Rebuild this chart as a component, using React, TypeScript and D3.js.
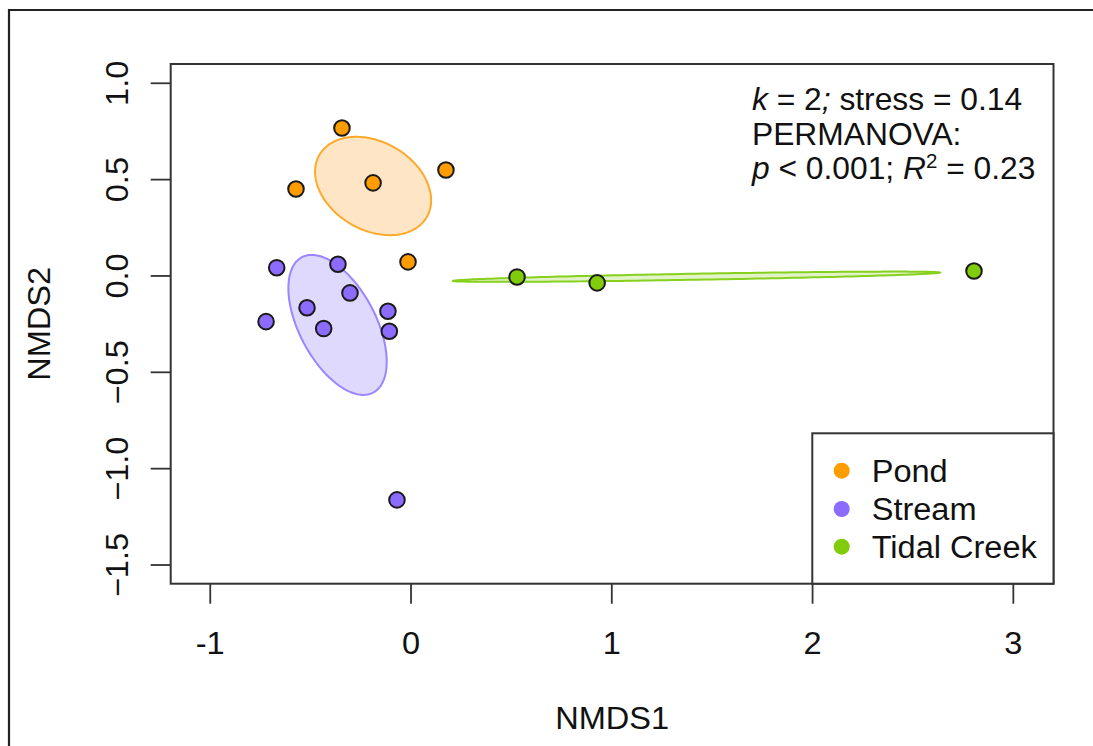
import React from "react";
import * as d3 from "d3";

// ---- data ----
const groups = ["Pond", "Stream", "Tidal Creek"];
const groupColors = ["#FF9C00", "#8C6BFF", "#80CC0A"];
const ellipseFills = ["#FDE5C6", "#DFD9FE", "#E3F3C8"];
const ellipseStrokes = ["#FFA929", "#9C84FF", "#86D01E"];

const pondX = [-0.344, -0.573, -0.189, 0.174, -0.015];
const pondY = [0.768, 0.451, 0.483, 0.55, 0.073];
const streamX = [-0.669, -0.364, -0.304, -0.518, -0.115, -0.722, -0.435, -0.108, -0.07];
const streamY = [0.043, 0.061, -0.088, -0.165, -0.183, -0.237, -0.273, -0.287, -1.162];
const tidalX = [0.528, 0.927, 2.804];
const tidalY = [-0.005, -0.036, 0.026];

// ellipse: center, first axis vector, second axis vector (data units)
const ellipseCenters = [[-0.189, 0.467], [-0.366, -0.254], [1.422, -0.004]];
const ellipseAxisA = [[0.2675, -0.161], [0.1773, -0.3513], [1.2134, 0.0216]];
const ellipseAxisB = [[-0.1096, -0.198], [-0.1689, -0.0924], [0.0003, -0.0156]];

const xTicks = [-1, 0, 1, 2, 3];
const yTicks = [1.0, 0.5, 0.0, -0.5, -1.0, -1.5];
const xDomain = [-1.197, 3.2];
const yDomain = [-1.597, 1.1];

const FONT = "'Liberation Sans', Arial, Helvetica, sans-serif";
const FS = 31;

function T(props: { x: number; y: number; rot?: number; anchor?: string; sx?: number; children: React.ReactNode }) {
  const { x, y, rot = 0, anchor = "start", sx = 1.05, children } = props;
  return (
    <g transform={`translate(${x},${y}) rotate(${rot}) scale(${sx},1)`}>
      <text x={0} y={0} fontSize={FS} textAnchor={anchor} fill="#111">{children}</text>
    </g>
  );
}

export default function App() {
  const left = 170.7, right = 1053.5, top = 64, bottom = 583.7;
  const x = d3.scaleLinear().domain(xDomain).range([left, right]);
  const y = d3.scaleLinear().domain(yDomain).range([bottom, top]);

  const seriesX = [pondX, streamX, tidalX];
  const seriesY = [pondY, streamY, tidalY];

  const line = d3.line<[number, number]>().curve(d3.curveLinearClosed);
  const ellipsePaths = ellipseCenters.map((c, i) => {
    const pts: [number, number][] = d3.range(0, 200).map((k) => {
      const t = (k / 200) * Math.PI * 2;
      const dx = c[0] + ellipseAxisA[i][0] * Math.cos(t) + ellipseAxisB[i][0] * Math.sin(t);
      const dy = c[1] + ellipseAxisA[i][1] * Math.cos(t) + ellipseAxisB[i][1] * Math.sin(t);
      return [x(dx), y(dy)];
    });
    return line(pts) as string;
  });

  const legendLeft = 812.3, legendTop = 433.3;
  const legendRows = [470.7, 509, 546.7];

  return (
    <svg width={1093} height={746} style={{ position: "absolute", left: 0, top: 0, background: "#fff" }} fontFamily={FONT}>
      <rect x={0} y={0} width={1093} height={746} fill="#fff" />
      {/* outer frame */}
      <path d="M9,760 V10 H1100" fill="none" stroke="#222" strokeWidth={2.2} />

      {/* ellipses */}
      {ellipsePaths.map((d, i) => (
        <path key={"e" + i} d={d} fill={ellipseFills[i]} stroke={ellipseStrokes[i]} strokeWidth={2} />
      ))}

      {/* points */}
      {seriesX.map((xs, g) =>
        xs.map((v, j) => (
          <circle key={`p${g}-${j}`} cx={x(v)} cy={y(seriesY[g][j])} r={7.8} fill={groupColors[g]} stroke="#1a1a1a" strokeWidth={2} />
        ))
      )}

      {/* plot frame */}
      <rect x={left} y={top} width={right - left} height={bottom - top} fill="none" stroke="#333" strokeWidth={2} />

      {/* x axis */}
      {xTicks.map((t) => (
        <g key={"xt" + t}>
          <line x1={x(t)} x2={x(t)} y1={bottom} y2={bottom + 20} stroke="#333" strokeWidth={1.8} />
          <T x={x(t)} y={654} anchor="middle">{t}</T>
        </g>
      ))}
      {/* y axis */}
      {yTicks.map((t) => (
        <g key={"yt" + t}>
          <line x1={left - 20} x2={left} y1={y(t)} y2={y(t)} stroke="#333" strokeWidth={1.8} />
          <T x={128} y={y(t)} rot={-90} anchor="middle">{d3.format(".1f")(t)}</T>
        </g>
      ))}

      <T x={(left + right) / 2} y={729} anchor="middle">NMDS1</T>
      <T x={50} y={(top + bottom) / 2} rot={-90} anchor="middle">NMDS2</T>

      {/* annotation */}
      <T x={752} y={110} sx={1.025}>
        <tspan fontStyle="italic">k</tspan> = 2<tspan fontStyle="italic">;</tspan> stress = 0.14
      </T>
      <T x={752} y={144.5} sx={1.025}>PERMANOVA:</T>
      <T x={752} y={179} sx={1.025}>
        <tspan fontStyle="italic">p</tspan> &lt; 0.001; <tspan fontStyle="italic">R</tspan>
        <tspan fontSize={20} dy={-11}>2</tspan>
        <tspan dy={11}> = 0.23</tspan>
      </T>

      {/* legend */}
      <rect x={legendLeft} y={legendTop} width={right - legendLeft} height={bottom - legendTop} fill="#fff" stroke="#333" strokeWidth={2} />
      {groups.map((g, i) => (
        <g key={"lg" + g}>
          <circle cx={841.7} cy={legendRows[i]} r={8} fill={groupColors[i]} />
          <T x={871.7} y={legendRows[i] + 11}>{g}</T>
        </g>
      ))}
    </svg>
  );
}
